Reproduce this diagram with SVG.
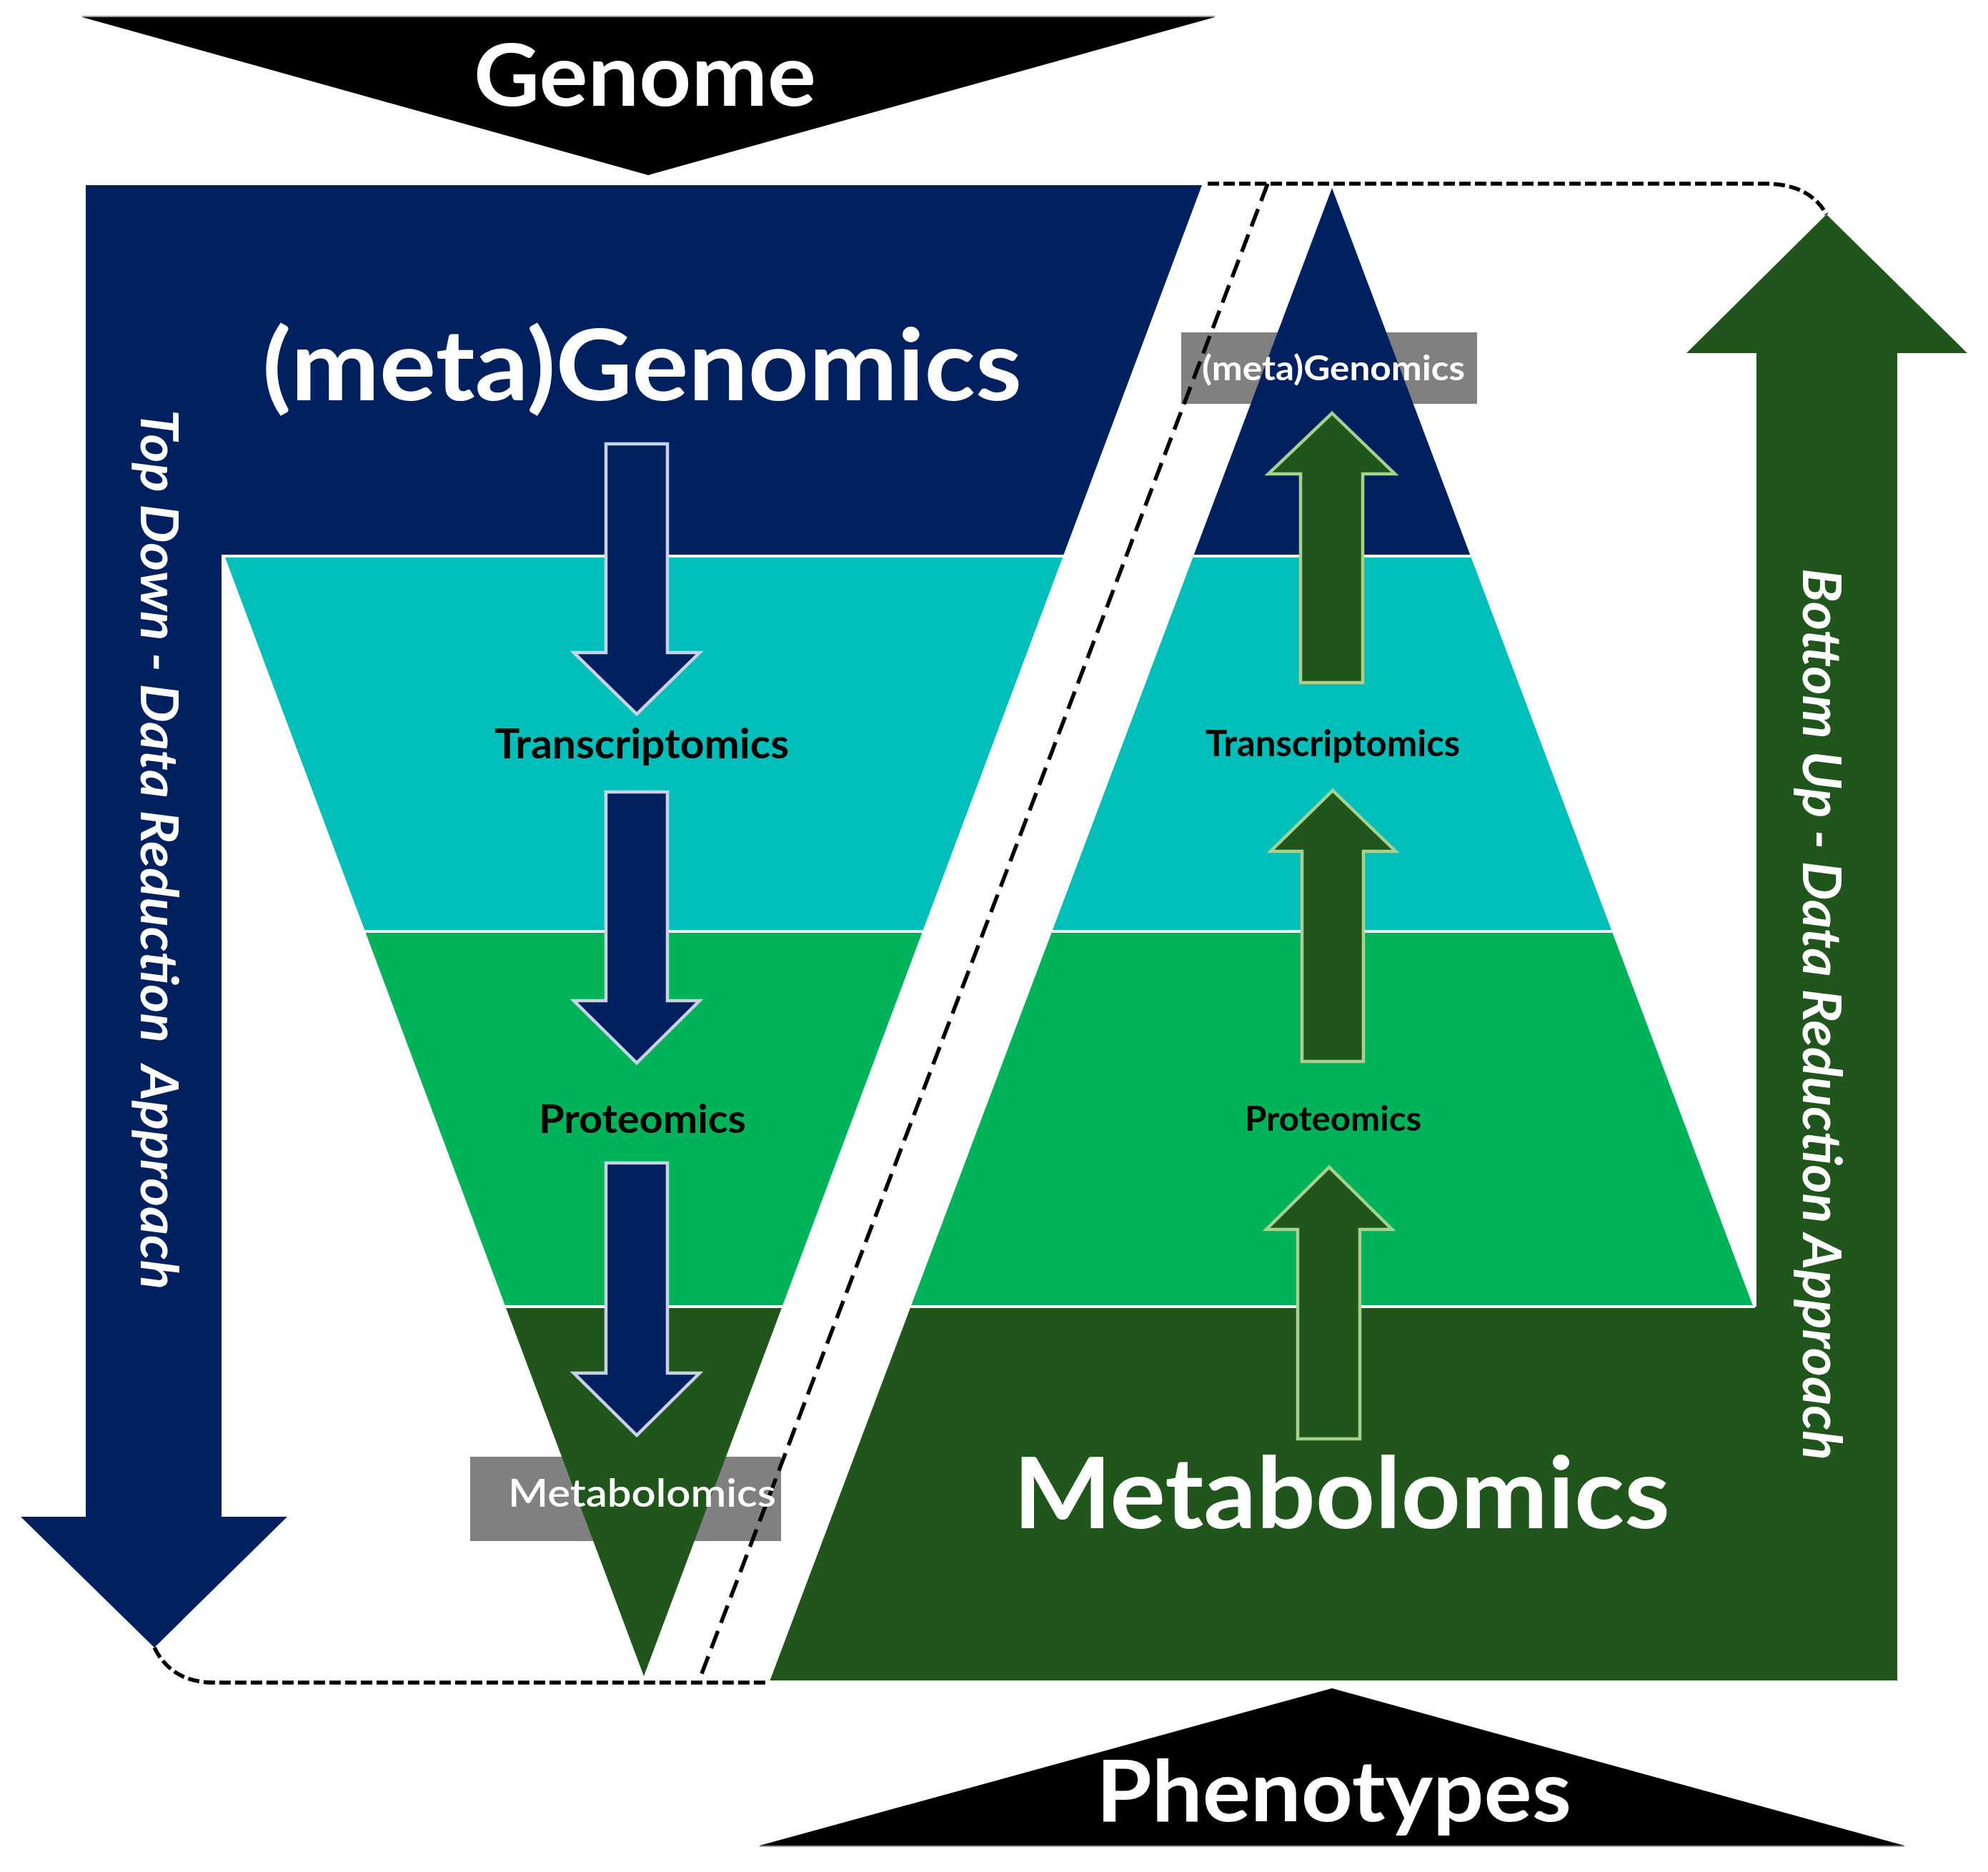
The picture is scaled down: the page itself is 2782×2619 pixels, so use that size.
<svg xmlns="http://www.w3.org/2000/svg" width="2782" height="2619" viewBox="0 0 2782 2619">
<style>
  .t { font-family: Lato, "Open Sans", "Liberation Sans", sans-serif; font-weight: bold; }
  .w { fill: #ffffff; }
  .k { fill: #000000; }
  .it { font-style: italic; }
  .blue { fill: #002060; }
  .teal { fill: #00BFBB; }
  .green { fill: #00B25A; }
  .dgreen { fill: #20561B; }
  .gray { fill: #808080; }
  .sep { stroke: #ffffff; stroke-width: 4; fill: none; }
  .downarrow { fill: #002060; stroke: #C9D3E8; stroke-width: 4.5; }
  .uparrow { fill: #20561B; stroke: #A9D18E; stroke-width: 4.5; }
  .dash { fill: none; stroke: #000000; stroke-width: 5.5; }
</style>
<rect width="2782" height="2619" fill="#ffffff"/>

<!-- Genome -->
<g id="genome">
  <polygon points="115,24 1700,24 907,245" fill="#000000"/>
  <line x1="115" y1="23" x2="1700" y2="23" stroke="#9a9a9a" stroke-width="2"/>
  <text class="t w" x="663" y="148" font-size="120" textLength="479" lengthAdjust="spacingAndGlyphs">Genome</text>
</g>

<!-- Phenotypes -->
<g id="phenotypes">
  <polygon points="1063,2582 2665,2582 1864,2362" fill="#000000"/>
  <line x1="1063" y1="2583" x2="2665" y2="2583" stroke="#9a9a9a" stroke-width="2"/>
  <text class="t w" x="1534" y="2548" font-size="119" textLength="665" lengthAdjust="spacingAndGlyphs">Phenotypes</text>
</g>

<!-- label boxes (behind the triangles) -->
<g id="box-metagenomics-small">
  <rect class="gray" x="1653" y="465" width="414" height="100"/>
</g>
<g id="box-metabolomics-small">
  <rect class="gray" x="658" y="2038" width="435" height="118"/>
</g>

<!-- Top-down inverted triangle + arrow -->
<g id="topdown">
  <polygon class="blue" points="120,259 1682,259 1487.7,778 310,778 310,2122 402,2122 216,2305 29,2122 120,2122"/>
  <polygon class="teal" points="314.3,778 1487.7,778 1291.1,1303 510.9,1303"/>
  <polygon class="green" points="510.9,1303 1291.1,1303 1094.6,1828 707.4,1828"/>
  <polygon class="dgreen" points="707.4,1828 1094.6,1828 901,2345"/>
  <line class="sep" x1="310" y1="778" x2="1488" y2="778"/>
  <line class="sep" x1="510" y1="1303" x2="1292" y2="1303"/>
  <line class="sep" x1="707" y1="1828" x2="1095" y2="1828"/>
  <text class="t w it" transform="translate(197,573) rotate(90)" font-size="72" textLength="1231" lengthAdjust="spacingAndGlyphs" xml:space="preserve">Top Down - Data Reduction  Approach</text>
</g>

<!-- Bottom-up pyramid + arrow -->
<g id="bottomup">
  <polygon class="blue" points="1864,263 2058,778 1670,778"/>
  <polygon class="teal" points="1670,778 2058,778 2255.8,1303 1472.2,1303"/>
  <polygon class="green" points="1472.2,1303 2255.8,1303 2453.5,1828 1274.5,1828"/>
  <polygon class="dgreen" points="1274.5,1828 2458,1828 2458,494 2360,494 2556,300 2753,494 2655,494 2655,2351 1077.5,2351"/>
  <line class="sep" x1="1670" y1="778" x2="2058" y2="778"/>
  <line class="sep" x1="1472" y1="1303" x2="2256" y2="1303"/>
  <line class="sep" x1="1274" y1="1828" x2="2456" y2="1828"/>
  <text class="t w it" transform="translate(2523,795) rotate(90)" font-size="75" textLength="1248" lengthAdjust="spacingAndGlyphs">Bottom Up - Data Reduction Approach</text>
</g>

<!-- dashed connectors -->
<g id="connectors">
  <path class="dash" stroke-dasharray="16 6" d="M1690,257 H2470 Q2532,257 2556,300"/>
  <path class="dash" stroke-dasharray="16 6" d="M216,2305 Q240,2354 300,2354 H1074"/>
  <path class="dash" stroke-dasharray="26 12" d="M1774,257 L978,2352"/>
</g>

<!-- small down arrows (left) -->
<g id="down-arrow-1">
  <polygon class="downarrow" points="848,621 934,621 934,913 979,913 891,999 803,913 848,913"/>
</g>
<g id="down-arrow-2">
  <polygon class="downarrow" points="848,1108 934,1108 934,1400 979,1400 891,1487 803,1400 848,1400"/>
</g>
<g id="down-arrow-3">
  <polygon class="downarrow" points="848,1627 934,1627 934,1921 979,1921 891,2008 803,1921 848,1921"/>
</g>

<!-- small up arrows (right) -->
<g id="up-arrow-1">
  <polygon class="uparrow" points="1820,955 1907,955 1907,663 1952,663 1864,578 1775,663 1820,663"/>
</g>
<g id="up-arrow-2">
  <polygon class="uparrow" points="1822,1485 1908,1485 1908,1191 1953,1191 1865,1106 1778,1191 1822,1191"/>
</g>
<g id="up-arrow-3">
  <polygon class="uparrow" points="1816,2013 1903,2013 1903,1720 1948,1720 1860,1633 1772,1720 1816,1720"/>
</g>

<!-- labels -->
<g id="label-metagenomics-big">
  <text class="t w" x="367" y="560" font-size="137" textLength="1063" lengthAdjust="spacingAndGlyphs">(meta)Genomics</text>
</g>
<g id="label-transcriptomics-left">
  <text class="t k" x="692" y="1061" font-size="57" textLength="412" lengthAdjust="spacingAndGlyphs">Transcriptomics</text>
</g>
<g id="label-proteomics-left">
  <text class="t k" x="754" y="1585" font-size="56" textLength="290" lengthAdjust="spacingAndGlyphs">Proteomics</text>
</g>
<g id="label-metabolomics-small">
  <text class="t w" x="711" y="2108" font-size="53" style="font-weight:600" textLength="375" lengthAdjust="spacingAndGlyphs">Metabolomics</text>
</g>
<g id="label-metagenomics-small">
  <text class="t w" x="1682" y="532" font-size="48" textLength="368" lengthAdjust="spacingAndGlyphs">(meta)Genomics</text>
</g>
<g id="label-transcriptomics-right">
  <text class="t k" x="1687" y="1058" font-size="52" textLength="356" lengthAdjust="spacingAndGlyphs">Transcriptomics</text>
</g>
<g id="label-proteomics-right">
  <text class="t k" x="1742" y="1582" font-size="47" textLength="247" lengthAdjust="spacingAndGlyphs">Proteomics</text>
</g>
<g id="label-metabolomics-big">
  <text class="t w" x="1418" y="2138" font-size="137" textLength="919" lengthAdjust="spacingAndGlyphs">Metabolomics</text>
</g>
</svg>
